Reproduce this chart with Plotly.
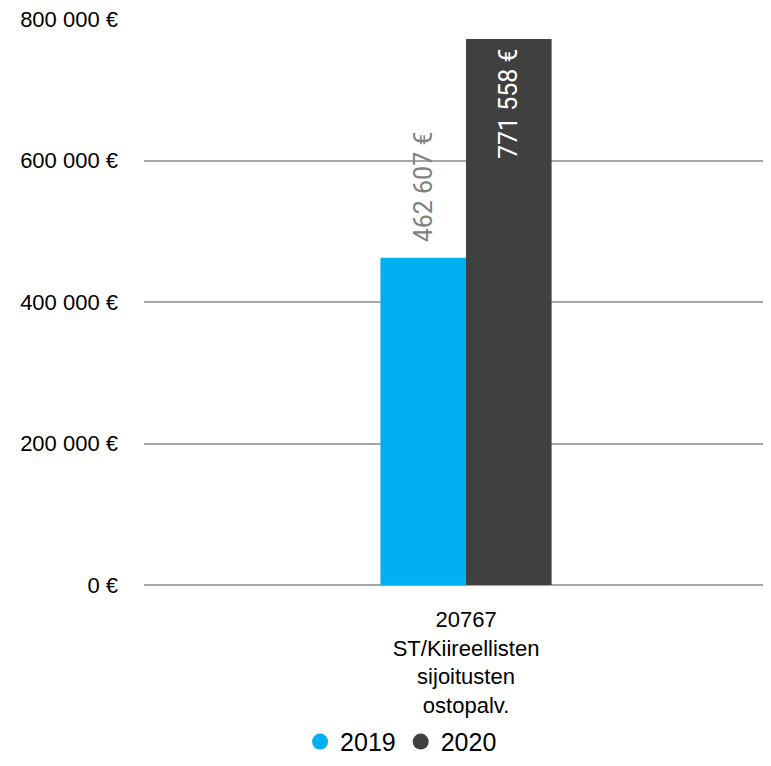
import plotly.graph_objects as go

categories = ["20767<br>ST/Kiireellisten<br>sijoitusten<br>ostopalv."]
series_names = ["2019", "2020"]
values_2019 = [462607]
values_2020 = [771558]
labels_2019 = ["\u00a0\u00a0462 607 €"]
labels_2020 = ["771 558 €\u00a0"]
tick_vals = [0, 200000, 400000, 600000, 800000]
tick_text = ["0 €", "200 000 €", "400 000 €", "600 000 €", "800 000 €"]
colors = ["#00B0F0", "#404040"]

fig = go.Figure()
fig.add_trace(go.Bar(
    x=categories, y=values_2019, name=series_names[0],
    marker=dict(color=colors[0], line=dict(width=0)), text=labels_2019,
    textposition="outside", textangle=-90, constraintext="none",
    textfont=dict(family="Roboto", size=25, color="#808080"),
    showlegend=False, cliponaxis=False,
))
fig.add_trace(go.Bar(
    x=categories, y=values_2020, name=series_names[1],
    marker=dict(color=colors[1], line=dict(width=0)), text=labels_2020,
    textposition="inside", insidetextanchor="end", textangle=-90, constraintext="none",
    textfont=dict(family="Roboto", size=25, color="#FFFFFF"),
    showlegend=False,
))
for name, c in zip(series_names, colors):
    fig.add_trace(go.Scatter(
        x=[None], y=[None], mode="markers", name=name,
        marker=dict(symbol="circle", size=22, color=c),
    ))

fig.update_layout(
    width=763, height=750,
    margin=dict(l=136, r=0, t=11, b=173, autoexpand=False),
    paper_bgcolor="white", plot_bgcolor="white",
    barmode="group", bargap=0.727, bargroupgap=0,
    font=dict(family="Liberation Sans, Arial", size=22, color="#000000"),
    showlegend=True,
    legend=dict(orientation="h", x=0.41, xanchor="center", y=-0.277, yanchor="middle",
                font=dict(size=25), itemwidth=30, tracegroupgap=0),
)
fig.update_yaxes(
    range=[0, 800000], tickvals=tick_vals, ticktext=tick_text,
    showgrid=True, gridcolor="#A6A6A6", gridwidth=1.5,
    zeroline=True, zerolinecolor="#A6A6A6", zerolinewidth=1.5,
    ticks="", ticklabelstandoff=25, tickfont=dict(size=22),
    ticklabeloverflow="allow",
)
fig.update_xaxes(
    range=[-0.5136, 0.4864], showline=False, ticks="",
    tickfont=dict(size=22), ticklabelstandoff=19,
)
fig.write_html("out.html")
